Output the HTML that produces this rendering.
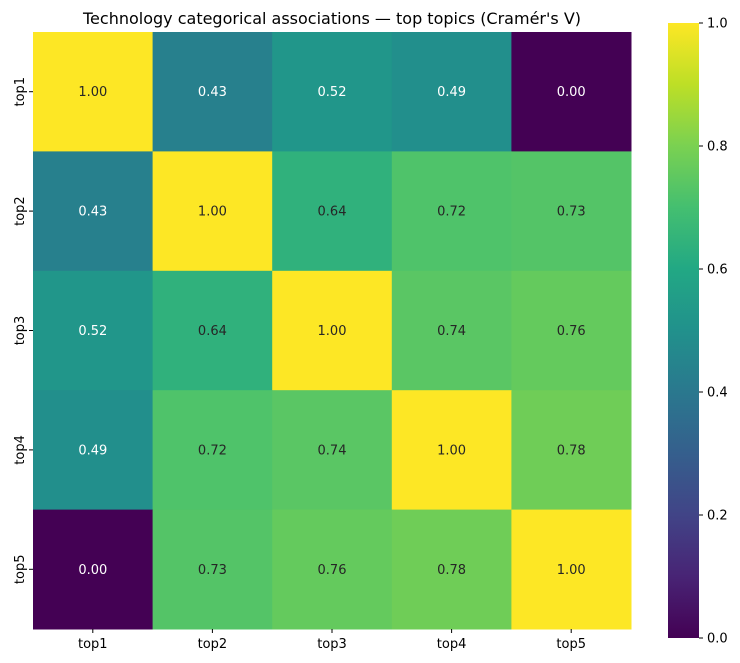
<!DOCTYPE html>
<html><head><meta charset="utf-8"><style>
body{margin:0;background:#fff;}
svg{display:block;font-family:"DejaVu Sans","Liberation Sans",sans-serif;}
</style></head><body>
<svg id="chart" width="740" height="663">
<defs><linearGradient id="vir" x1="0" y1="1" x2="0" y2="0">
<stop offset="0" stop-color="#440154"/><stop offset="0.1" stop-color="#482475"/><stop offset="0.2" stop-color="#414487"/><stop offset="0.3" stop-color="#355f8d"/><stop offset="0.4" stop-color="#2a788e"/><stop offset="0.5" stop-color="#21918c"/><stop offset="0.6" stop-color="#22a884"/><stop offset="0.7" stop-color="#44bf70"/><stop offset="0.8" stop-color="#7ad151"/><stop offset="0.9" stop-color="#bddf26"/><stop offset="1" stop-color="#fde725"/>
</linearGradient></defs>
<text x="332" y="24" text-anchor="middle" font-size="16" fill="#000">Technology categorical associations — top topics (Cramér's V)</text>
<g id="cells"></g>
<rect x="668" y="23" width="31" height="615" fill="url(#vir)"/>
<g id="cbticks"></g>
</svg>
<script>
const categories=["top1","top2","top3","top4","top5"];
const values=[
[1.00,0.43,0.52,0.49,0.00],
[0.43,1.00,0.64,0.72,0.73],
[0.52,0.64,1.00,0.74,0.76],
[0.49,0.72,0.74,1.00,0.78],
[0.00,0.73,0.76,0.78,1.00]];
const cbTicks=[0.0,0.2,0.4,0.6,0.8,1.0];
const stops=["#440154","#482475","#414487","#355f8d","#2a788e","#21918c","#22a884","#44bf70","#7ad151","#bddf26","#fde725"];
function hex(h){return [1,3,5].map(i=>parseInt(h.substr(i,2),16));}
function viridis(v){v=Math.max(0,Math.min(1,v));const p=v*10,i=Math.min(9,Math.floor(p)),t=p-i;const a=hex(stops[i]),b=hex(stops[i+1]);return "rgb("+a.map((c,k)=>Math.round(c+(b[k]-c)*t)).join(",")+")";}
const X0=33,X1=631,Y0=32,Y1=629,n=categories.length,cw=(X1-X0)/n,ch=(Y1-Y0)/n;
const xs=i=>X0+i*cw, ys=j=>Y0+j*ch;
const NS="http://www.w3.org/2000/svg";
const g=document.getElementById("cells");
function mk(t,attrs,txt){const e=document.createElementNS(NS,t);for(const k in attrs)e.setAttribute(k,attrs[k]);if(txt!==undefined)e.textContent=txt;return e;}
values.forEach((row,j)=>row.forEach((v,i)=>{
 const r=mk("rect",{x:xs(i),y:ys(j),width:cw+0.5,height:ch+0.5,fill:viridis(v)});
 
 
 g.appendChild(r);
 const t=mk("text",{x:xs(i)+cw/2,y:ys(j)+ch/2+4.5,"text-anchor":"middle","font-size":"13",fill:v<0.55?"#fff":"#262626"},v.toFixed(2));
 
 
 g.appendChild(t);
}));
categories.forEach((c,i)=>{
 const l=mk("line",{x1:xs(i)+cw/2,x2:xs(i)+cw/2,y1:Y1,y2:Y1+4,stroke:"#000"});
 
 
 g.appendChild(l);
 const t=mk("text",{x:xs(i)+cw/2,y:Y1+19,"text-anchor":"middle","font-size":"13"},c);
 
 
 g.appendChild(t);
 const l2=mk("line",{x1:X0-4,x2:X0,y1:ys(i)+ch/2,y2:ys(i)+ch/2,stroke:"#000"});
 
 
 g.appendChild(l2);
 const cy=ys(i)+ch/2;
 const t2=mk("text",{x:24,y:cy,"text-anchor":"middle","font-size":"13",transform:"rotate(-90 24 "+cy+")"},c);
 
 
 g.appendChild(t2);
});
const cb=document.getElementById("cbticks");
const CB0=638,CB1=23;
const cy=v=>CB0-(CB0-CB1)*v;
cbTicks.forEach(v=>{
 const l=mk("line",{x1:699,x2:703,y1:cy(v),y2:cy(v),stroke:"#000"});
 
 
 cb.appendChild(l);
 const t=mk("text",{x:707,y:cy(v)+4.5,"font-size":"13"},v.toFixed(1));
 
 
 cb.appendChild(t);
});
</script>
</body></html>
